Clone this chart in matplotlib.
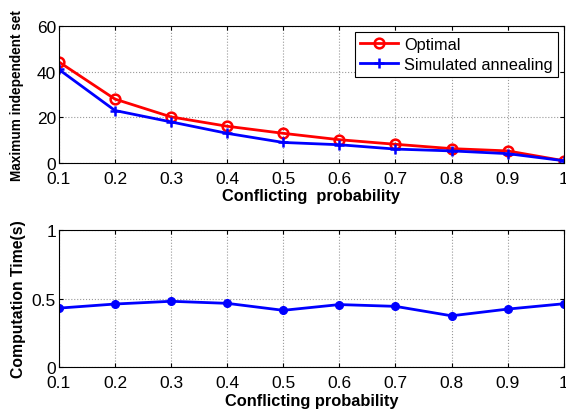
import matplotlib.pyplot as plt

plt.rcParams['font.family'] = ['Liberation Sans', 'DejaVu Sans']

prob = [0.1, 0.2, 0.3, 0.4, 0.5, 0.6, 0.7, 0.8, 0.9, 1.0]
optimal = [44.3, 28, 20.2, 16.1, 13, 10.2, 8.2, 6.3, 5.3, 1]
annealing = [41, 23, 18, 13, 9, 8, 6.1, 5.3, 4.1, 1]
comp_time = [0.43, 0.46, 0.48, 0.465, 0.414, 0.456, 0.443, 0.374, 0.423, 0.462]
xticks = [0.1, 0.2, 0.3, 0.4, 0.5, 0.6, 0.7, 0.8, 0.9, 1.0]
xticklabels = ['0.1', '0.2', '0.3', '0.4', '0.5', '0.6', '0.7', '0.8', '0.9', '1']

fig = plt.figure(figsize=(5.66, 4.10), dpi=100)
ax1 = fig.add_axes([0.104, 0.6, 0.892, 0.334])
ax2 = fig.add_axes([0.104, 0.1024, 0.892, 0.334])

# top panel
ax1.plot(prob, optimal, color='red', lw=2, marker='o', ms=7, mfc='none', mew=1.8, label='Optimal')
ax1.plot(prob, annealing, color='blue', lw=2, marker='+', ms=7, mew=1.8, label='Simulated annealing')
ax1.set_ylim(0, 60)
ax1.set_yticks([0, 20, 40, 60])
ax1.set_ylabel('Maximum independent set', fontsize=9.8, fontweight='bold', labelpad=9)
leg = ax1.legend(loc='upper right', fontsize=11.8, fancybox=False, framealpha=1,
                 edgecolor='black', borderaxespad=0.35, handlelength=2.3,
                 borderpad=0.3, labelspacing=0.3, handletextpad=0.4)
leg.get_frame().set_linewidth(0.8)

# bottom panel
ax2.plot(prob, comp_time, color='blue', lw=2, marker='o', ms=5.5)
ax2.set_ylim(0, 1)
ax2.set_yticks([0, 0.5, 1])
ax2.set_yticklabels(['0', '0.5', '1'])
ax2.set_ylabel('Computation Time(s)', fontsize=11.3, fontweight='bold', labelpad=4)

for ax in (ax1, ax2):
    ax.set_xlim(0.1, 1.0)
    ax.set_xticks(xticks)
    ax.set_xticklabels(xticklabels)
    ax.grid(True, linestyle=':', color='#999999', lw=0.8)
    ax.tick_params(direction='in', top=True, right=True, labelsize=12.5, length=3, pad=2)
    ax.tick_params(axis='x', pad=6)
    for sp in ax.spines.values():
        sp.set_linewidth(0.8)

ax1.set_xlabel('Conflicting  probability', fontsize=11.8, fontweight='bold', labelpad=1)
ax2.set_xlabel('Conflicting probability', fontsize=11.8, fontweight='bold', labelpad=2)

plt.savefig('out.png', dpi=100)
